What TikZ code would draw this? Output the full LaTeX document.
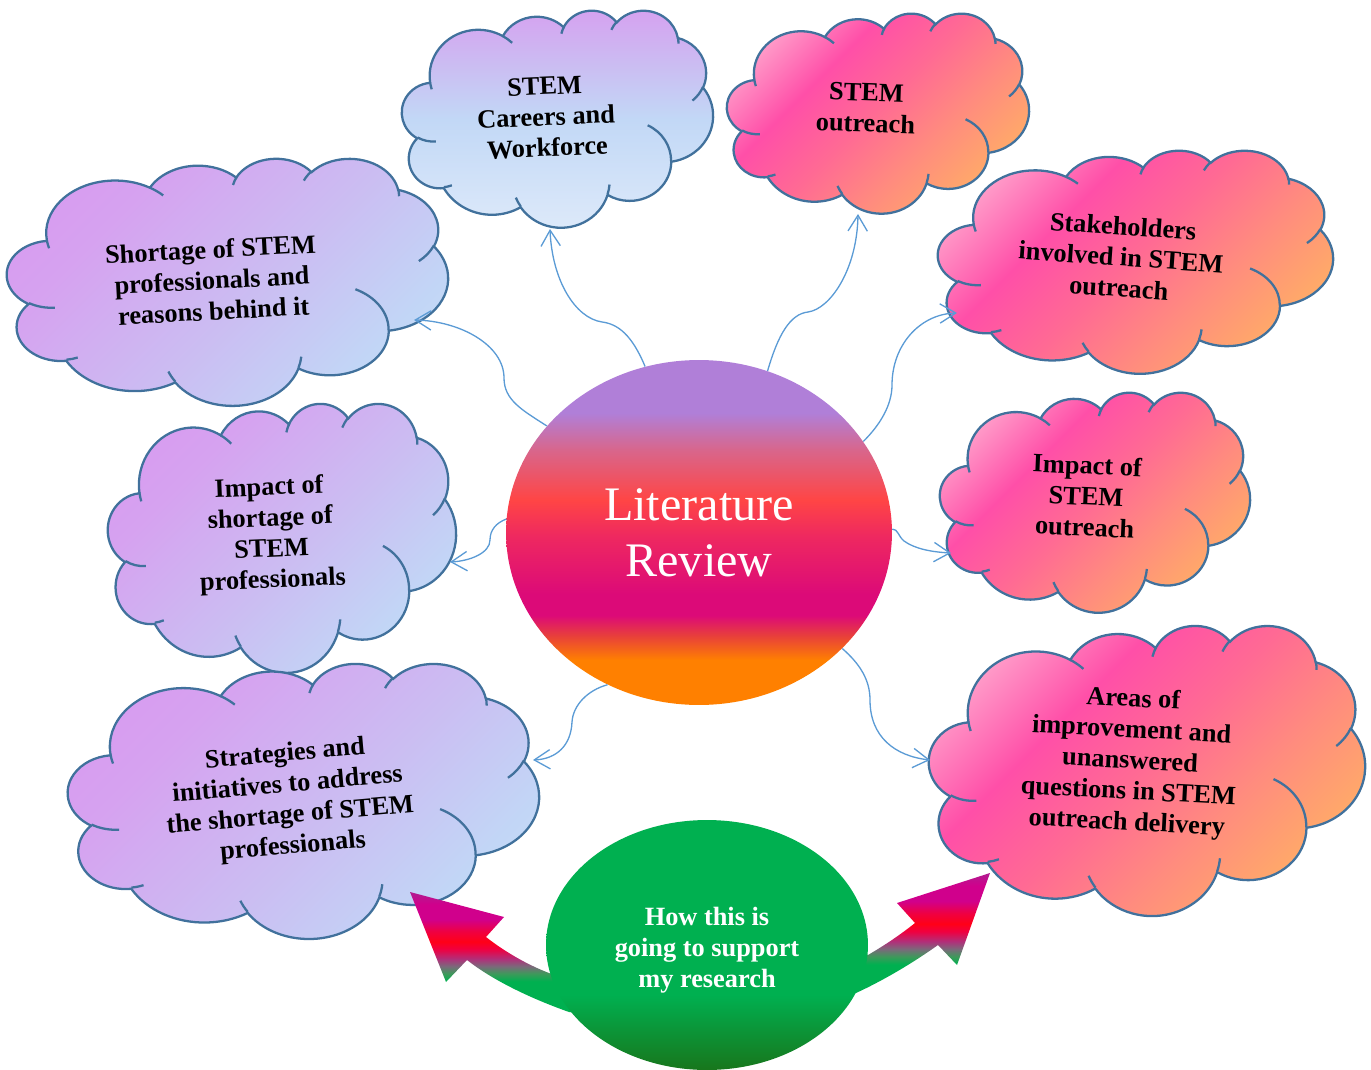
\documentclass[tikz,border=0pt]{standalone}
\usepackage{fontspec}
\setmainfont{Liberation Serif}
\usepackage{tikz}
\usetikzlibrary{arrows.meta}
\usetikzlibrary{shapes.geometric}

\definecolor{cloudline}{HTML}{41719C}
\definecolor{linkblue}{HTML}{5B9BD5}
\definecolor{pk0}{HTML}{FFD6E6}
\definecolor{pk1}{HTML}{FFA8CE}
\definecolor{pk2}{HTML}{FF4FA8}
\definecolor{pk3}{HTML}{FF6A94}
\definecolor{pk4}{HTML}{FF8C7E}
\definecolor{pk5}{HTML}{FFA86A}
\definecolor{pk6}{HTML}{FFB460}
\definecolor{pu0}{HTML}{D996F0}
\definecolor{pu1}{HTML}{D6A2F0}
\definecolor{pu2}{HTML}{CBBDF2}
\definecolor{pu3}{HTML}{C2D6F6}
\definecolor{pu4}{HTML}{CFE1F8}
\definecolor{ca0}{HTML}{D6A0F0}
\definecolor{ca1}{HTML}{CBBDF2}
\definecolor{ca2}{HTML}{C2D8F6}
\definecolor{ca3}{HTML}{DEEAFA}
\definecolor{li0}{HTML}{B07FD8}
\definecolor{li1}{HTML}{D8668C}
\definecolor{li2}{HTML}{FF4545}
\definecolor{li3}{HTML}{EE2860}
\definecolor{li4}{HTML}{DC0A78}
\definecolor{li5}{HTML}{E8403A}
\definecolor{li6}{HTML}{FF8000}
\definecolor{gr0}{HTML}{00B050}
\definecolor{gr1}{HTML}{18761C}
\definecolor{ar0}{HTML}{B01C90}
\definecolor{ar1}{HTML}{D0008C}
\definecolor{ar2}{HTML}{F00040}
\definecolor{ar3}{HTML}{FF0018}
\definecolor{ar4}{HTML}{B0307A}
\definecolor{ar5}{HTML}{7A6A7A}
\definecolor{ar6}{HTML}{3C9A5A}

\pgfdeclareverticalshading{pinkshade}{100bp}{color(0bp)=(pk6); color(18bp)=(pk6); color(28bp)=(pk5); color(39bp)=(pk4); color(51bp)=(pk3); color(63bp)=(pk2); color(77bp)=(pk1); color(85.4bp)=(pk0); color(100bp)=(pk0)}
\pgfdeclareverticalshading{purpleshade}{100bp}{color(0bp)=(pu4); color(14.6bp)=(pu4); color(28.8bp)=(pu3); color(46.5bp)=(pu2); color(67.7bp)=(pu1); color(85.4bp)=(pu0); color(100bp)=(pu0)}
\pgfdeclareverticalshading{skyshade}{100bp}{color(0bp)=(ca3); color(25bp)=(ca3); color(50bp)=(ca2); color(62bp)=(ca1); color(75bp)=(ca0); color(100bp)=(ca0)}
\pgfdeclareverticalshading{litshade}{100bp}{color(0bp)=(li6); color(31.5bp)=(li6); color(35bp)=(li5); color(38bp)=(li4); color(41bp)=(li4); color(49.4bp)=(li3); color(54.7bp)=(li2); color(62bp)=(li1); color(67.3bp)=(li0); color(100bp)=(li0)}
\pgfdeclareverticalshading{greenshade}{100bp}{color(0bp)=(gr1); color(25bp)=(gr1); color(40bp)=(gr0); color(100bp)=(gr0)}
\pgfdeclareverticalshading{arrowshade}{100bp}{color(0bp)=(gr0); color(39bp)=(gr0); color(42bp)=(ar6); color(45bp)=(ar5); color(48bp)=(ar4); color(52bp)=(ar2); color(55bp)=(ar3); color(59bp)=(ar2); color(64bp)=(ar1); color(70bp)=(ar1); color(75bp)=(ar0); color(100bp)=(ar0)}

\tikzset{
    cloud edge/.style={
        draw=cloudline,
        line width=1.3pt
    },
    cloud pink/.style={
        cloud edge,
        shading=pinkshade,
        shading angle=45
    },
    cloud purple/.style={
        cloud edge,
        shading=purpleshade,
        shading angle=45
    },
    cloud sky/.style={
        cloud edge,
        shading=skyshade
    },
    cloudtext/.style={
        align=center,
        inner sep=0pt,
        font=\bfseries\fontsize{15}{17.6}\selectfont
    },
    hub/.style={
        ellipse,
        inner sep=0pt,
        text=white,
        align=center
    },
    link/.style={
        draw=linkblue,
        line width=0.75pt,
        -{Straight Barb[length=9pt,width=11pt]}
    },
    bigarrow/.style={
        shading=arrowshade
    }
}

% elliptic arc, angles as seen on the outline
\newcommand\oarc[4]{arc[x radius=#1, y radius=#2,
    start angle={atan2(#1*sin(#3),#2*cos(#3))},
    delta angle={mod(atan2(#1*sin(#3+#4),#2*cos(#3+#4))-atan2(#1*sin(#3),#2*cos(#3))+720,360)}]}

% cloud: centre x, centre y, width, height, style
\newcommand\wcloud[5]{%
  \begin{scope}[shift={(#1,#2)}, xscale=#3/43.2, yscale=#4/43.2]
    \path[#5] (-17.7,-7.23)
      \oarc{6.753}{9.19}{-190.4875}{123.7805}
      \oarc{5.333}{7.267}{-144.1024}{89.9452}
      \oarc{4.365}{5.945}{-145.8079}{99.723}
      \oarc{4.857}{6.595}{-130.9861}{117.2417}
      \oarc{5.333}{7.273}{-78.7089}{109.0269}
      \oarc{6.775}{9.22}{-46.2673}{130.269}
      \oarc{5.785}{7.867}{0.625}{114.0333}
      \oarc{6.752}{9.215}{22.4516}{115.1726}
      \oarc{7.72}{10.543}{66.2426}{75.711}
      \oarc{4.36}{5.918}{-274.9421}{146.7356}
      \oarc{4.345}{5.945}{-246.8285}{152.5189}
      -- cycle;
    \draw[cloud edge]
      (-16.907,4.577) \oarc{4.345}{5.945}{86.742}{26.4295}
      (-14.672,13.299) \oarc{4.36}{5.918}{73.6105}{11.4475}
      (-5.122,17.49) \oarc{6.752}{9.215}{137.6242}{14.0811}
      (7.227,13.151) \oarc{6.752}{9.215}{6.4533}{15.9984}
      (12.529,1.354) \oarc{5.785}{7.867}{-70.2924}{70.9174}
      (20.198,-6.246) \oarc{5.333}{7.273}{30.318}{27.7515}
      (16.724,-16.174) \oarc{4.857}{6.595}{-13.7443}{14.8589}
      (7.478,-17.648) \oarc{4.857}{6.595}{-149.1815}{18.1954}
      (0.541,-16.88) \oarc{4.365}{5.945}{-163.4943}{17.6864}
      (-7.6,-16.408) \oarc{6.753}{9.19}{-66.707}{12.3194}
      (-17.473,-5.811) \oarc{6.753}{9.19}{157.6544}{11.8582};
  \end{scope}}

\begin{document}
\begin{tikzpicture}[x=0.02cm, y=-0.02cm]
\useasboundingbox (0,0) rectangle (1371,1070);

% clouds
\wcloud{557.5}{118.5}{311}{217}{cloud sky}
\wcloud{878}{113}{302}{200}{cloud pink}
\wcloud{227.5}{281.5}{441}{247}{cloud purple}
\wcloud{1135.5}{261.5}{395}{223}{cloud pink}
\wcloud{282}{537.5}{348}{269}{cloud purple}
\wcloud{1095}{502}{310}{220}{cloud pink}
\wcloud{303.5}{800.5}{471}{275}{cloud purple}
\wcloud{1147}{770}{436}{290}{cloud pink}

\node[cloudtext, rotate=2.5] (careers) at (546,117) {STEM\\Careers and\\Workforce};
\node[cloudtext, rotate=-2] (outreach) at (866,108) {STEM\\outreach};
\node[cloudtext, rotate=3] (shortage) at (212,280) {Shortage of STEM\\professionals and\\reasons behind it};
\node[cloudtext, rotate=-4] (stake) at (1121,257) {Stakeholders\\involved in STEM\\outreach};
\node[cloudtext, rotate=2.5] (impshort) at (271,535) {Impact of\\shortage of\\STEM\\professionals};
\node[cloudtext, rotate=-2.5] (impout) at (1086,496) {Impact of\\STEM\\outreach};
\node[cloudtext, rotate=5] (strat) at (289,801) {Strategies and\\initiatives to address\\the shortage of STEM\\professionals};
\node[cloudtext, rotate=-3] (areas) at (1130,762) {Areas of\\improvement and\\unanswered\\questions in STEM\\outreach delivery};

\coordinate (careers-in) at (550,229);
\coordinate (outreach-in) at (858,214);
\coordinate (shortage-in) at (414,320);
\coordinate (stake-in) at (957,313);
\coordinate (impshort-in) at (450,562);
\coordinate (impout-in) at (951,553);
\coordinate (strat-in) at (533,760);
\coordinate (areas-in) at (930,760);

\node[hub, shading=litshade, minimum width=7.72cm, minimum height=6.9cm,
      font=\fontsize{27.4}{31.7}\selectfont] (lit) at (699,532.5) {Literature\\Review};

\draw[link] (lit.108) .. controls (632,335) and (618,324) .. (602,322) .. controls (575,318) and (552,280) .. (careers-in);
\draw[link] (lit.67) .. controls (778,335) and (790,314) .. (808,312) .. controls (830,309) and (857,270) .. (outreach-in);
\draw[link] (lit.145) .. controls (522,410) and (504,400) .. (504,378) .. controls (504,345) and (460,321) .. (shortage-in);
\draw[link] (lit.176) .. controls (496,523) and (490,530) .. (490,540) .. controls (490,553) and (470,561) .. (impshort-in);
\draw[link] (lit.29) .. controls (880,425) and (892,405) .. (892,385) .. controls (892,345) and (920,314) .. (stake-in);
\draw[link] (lit.1) .. controls (898,529) and (898,536) .. (904,541) .. controls (915,549) and (932,552) .. (impout-in);
\draw[link] (lit.239) .. controls (588,690) and (573,705) .. (572,722) .. controls (571,746) and (556,759) .. (strat-in);
\draw[link] (lit.321) .. controls (860,664) and (870,680) .. (870,700) .. controls (870,737) and (895,756) .. (areas-in);

% thick arrows out of the green ellipse
\path[bigarrow] (410,892) -- (504,917) -- (486,937)
    .. controls (505,952) and (528,965) .. (549,973) -- (600,990) -- (600,1016) -- (569,1012)
    .. controls (535,1000) and (495,982) .. (467,960) -- (446,982) -- cycle;
\path[bigarrow] (990,873) -- (957,965) -- (938,945)
    .. controls (910,965) and (880,982) .. (856,993) -- (815,1000) -- (830,960) -- (868,955)
    .. controls (885,945) and (900,935) .. (915,923) -- (897,903) -- cycle;

\node[hub, shading=greenshade, minimum width=6.44cm, minimum height=5cm,
      font=\bfseries\fontsize{15}{17.6}\selectfont] (support) at (707,945) {\rule{0pt}{16pt}How this is\\going to support\\my research};
\end{tikzpicture}
\end{document}
